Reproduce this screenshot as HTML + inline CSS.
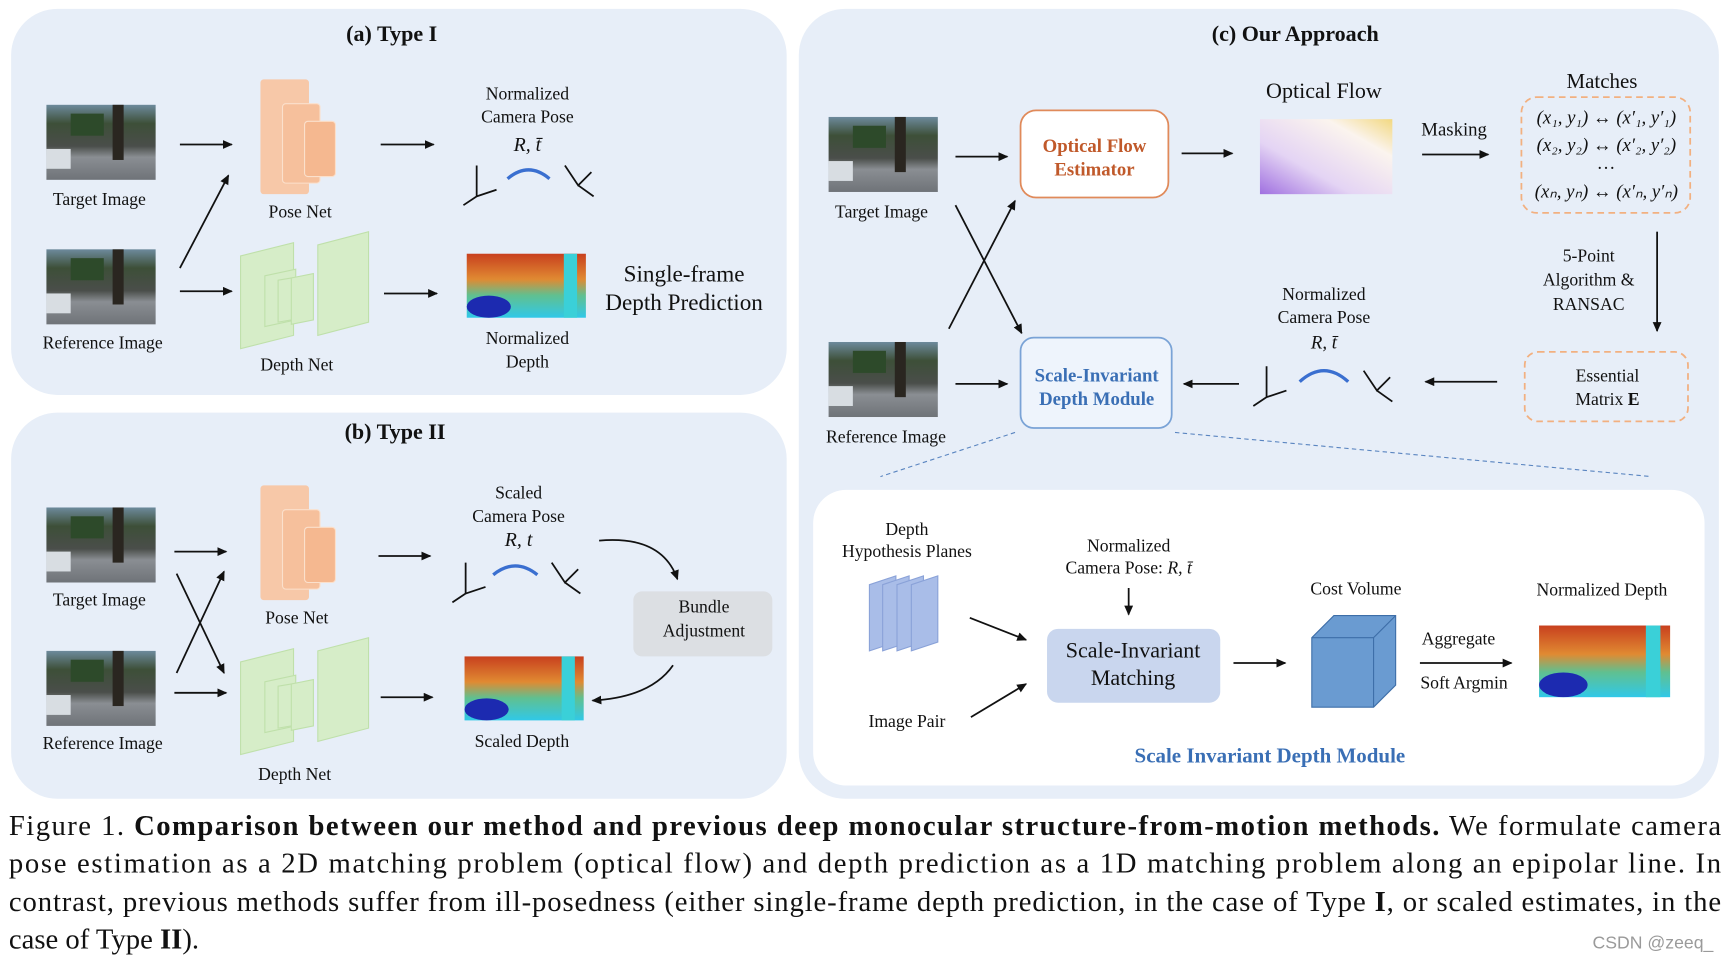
<!DOCTYPE html>
<html><head><meta charset="utf-8"><style>
html,body{margin:0;padding:0;background:#fff;width:1730px;height:962px;overflow:hidden}
svg{display:block}
text{font-family:"Liberation Serif",serif;fill:#111}
.c{text-anchor:middle}
.s16{font-size:16px}
</style></head><body>
<svg width="1730" height="962" viewBox="0 0 1568 872" xmlns="http://www.w3.org/2000/svg">
<defs>
<marker id="ar" markerWidth="10" markerHeight="10" refX="8" refY="4" orient="auto" markerUnits="userSpaceOnUse"><path d="M0,0 L9,4 L0,8 z" fill="#111"/></marker>
<linearGradient id="ph" x1="0" y1="0" x2="0" y2="1"><stop offset="0" stop-color="#6d8a9c"/><stop offset="0.25" stop-color="#3d4f38"/><stop offset="0.55" stop-color="#4a4e4a"/><stop offset="0.7" stop-color="#8a8e93"/><stop offset="1" stop-color="#6f7378"/></linearGradient>
<linearGradient id="dp" x1="0" y1="0" x2="0" y2="1"><stop offset="0" stop-color="#c8401e"/><stop offset="0.4" stop-color="#e08a32"/><stop offset="0.65" stop-color="#60c090"/><stop offset="1" stop-color="#30c8e8"/></linearGradient>
<linearGradient id="of" x1="0" y1="1" x2="1" y2="0"><stop offset="0" stop-color="#a070e0"/><stop offset="0.35" stop-color="#e4d4f4"/><stop offset="0.75" stop-color="#fbf4ee"/><stop offset="1" stop-color="#f2d880"/></linearGradient>
<g id="photo"><rect width="99" height="68" fill="url(#ph)"/><rect x="60" y="0" width="10" height="50" fill="#2a2620"/><rect x="0" y="40" width="22" height="18" fill="#d8dde2"/><rect x="22" y="8" width="30" height="20" fill="#2d4a2a"/></g>
<g id="depth"><rect width="108" height="58" fill="url(#dp)"/><ellipse cx="20" cy="48" rx="20" ry="10" fill="#1c2ab0"/><rect x="88" y="0" width="12" height="58" fill="#3ad0d8"/></g>
<g id="pose"><rect x="0" y="0" width="44" height="104" rx="3" fill="#f7c8a8"/><rect x="20" y="22" width="34" height="72" rx="3" fill="#f6c09c" stroke="#fbe0cc"/><rect x="40" y="38" width="28" height="50" rx="3" fill="#f5b890" stroke="#fbe0cc"/></g>
<g id="dnet" fill="#d6edc8" stroke="#bfe0aa"><path d="M0,22 L48,10 L48,94 L0,106z"/><path d="M22,40 L50,34 L50,80 L22,86z"/><path d="M34,44 L58,40 L58,78 L34,82z"/><path d="M46,42 L66,38 L66,80 L46,84z"/><path d="M70,12 L116,0 L116,82 L70,94z"/></g>
<g id="ax" stroke="#111" stroke-width="1.6" fill="none"><path d="M12,0 L12,28 L30,22 M12,28 L0,36"/></g>
<g id="ax2" stroke="#111" stroke-width="1.6" fill="none"><path d="M0,0 L12,18 L24,6 M12,18 L26,28"/></g>
</defs>
<!-- panels -->
<rect x="10" y="8" width="703" height="350" rx="42" fill="#e7eef8"/>
<rect x="10" y="374" width="703" height="350" rx="42" fill="#e7eef8"/>
<rect x="724" y="8" width="834" height="716" rx="42" fill="#e7eef8"/>
<rect x="737" y="444" width="808" height="268" rx="30" fill="#fff"/>

<!-- (a) -->
<text x="355" y="37" class="c" font-size="20" font-weight="bold">(a) Type I</text>
<use href="#photo" x="42" y="95"/><text x="90" y="186" class="c s16">Target Image</text>
<use href="#photo" x="42" y="226"/><text x="93" y="316" class="c s16">Reference Image</text>
<g stroke="#111" stroke-width="1.6" marker-end="url(#ar)"><line x1="163" y1="131" x2="210" y2="131"/><line x1="163" y1="243" x2="207" y2="159"/><line x1="163" y1="264" x2="210" y2="264"/><line x1="345" y1="131" x2="393" y2="131"/><line x1="348" y1="266" x2="396" y2="266"/></g>
<use href="#pose" x="236" y="72"/><text x="272" y="197" class="c s16">Pose Net</text>
<use href="#dnet" x="218" y="210"/><text x="269" y="336" class="c s16">Depth Net</text>
<text x="478" y="90" class="c s16">Normalized</text><text x="478" y="111" class="c s16">Camera Pose</text><text x="478" y="137" class="c" font-size="18" font-style="italic">R, t̄</text>
<use href="#ax" x="420" y="150"/><use href="#ax2" x="512" y="150"/><path d="M460,162 Q479,146 498,162" stroke="#3a6fd0" stroke-width="3" fill="none"/>
<use href="#depth" x="423" y="230"/>
<text x="478" y="312" class="c s16">Normalized</text><text x="478" y="333" class="c s16">Depth</text>
<text x="620" y="255" class="c" font-size="21">Single-frame</text><text x="620" y="281" class="c" font-size="21">Depth Prediction</text>

<!-- (b) -->
<text x="358" y="398" class="c" font-size="20" font-weight="bold">(b) Type II</text>
<use href="#photo" x="42" y="460"/><text x="90" y="549" class="c s16">Target Image</text>
<use href="#photo" x="42" y="590"/><text x="93" y="679" class="c s16">Reference Image</text>
<g stroke="#111" stroke-width="1.6" marker-end="url(#ar)"><line x1="158" y1="500" x2="205" y2="500"/><line x1="158" y1="628" x2="205" y2="628"/><line x1="160" y1="610" x2="203" y2="518"/><line x1="160" y1="520" x2="203" y2="610"/><line x1="343" y1="504" x2="390" y2="504"/><line x1="345" y1="632" x2="392" y2="632"/>
<path d="M543,490 Q600,485 614,525" fill="none"/><path d="M610,603 Q590,632 537,635" fill="none"/></g>
<use href="#pose" x="236" y="440"/><text x="269" y="565" class="c s16">Pose Net</text>
<use href="#dnet" x="218" y="578"/><text x="267" y="707" class="c s16">Depth Net</text>
<text x="470" y="452" class="c s16">Scaled</text><text x="470" y="473" class="c s16">Camera Pose</text><text x="470" y="495" class="c" font-size="18" font-style="italic">R, t</text>
<use href="#ax" x="410" y="510"/><use href="#ax2" x="500" y="510"/><path d="M447,521 Q467,505 487,521" stroke="#3a6fd0" stroke-width="3" fill="none"/>
<use href="#depth" x="421" y="595"/><text x="473" y="677" class="c s16">Scaled Depth</text>
<rect x="574" y="536" width="126" height="59" rx="8" fill="#dcdfe3"/>
<text x="638" y="555" class="c s16">Bundle</text><text x="638" y="577" class="c s16">Adjustment</text>

<!-- (c) -->
<text x="1174" y="37" class="c" font-size="20" font-weight="bold">(c) Our Approach</text>
<use href="#photo" x="751" y="106"/><text x="799" y="197" class="c s16">Target Image</text>
<use href="#photo" x="751" y="310"/><text x="803" y="401" class="c s16">Reference Image</text>
<g stroke="#111" stroke-width="1.6" marker-end="url(#ar)"><line x1="866" y1="142" x2="913" y2="142"/><line x1="866" y1="348" x2="913" y2="348"/><line x1="866" y1="186" x2="926" y2="302"/><line x1="860" y1="298" x2="920" y2="182"/><line x1="1071" y1="139" x2="1117" y2="139"/><line x1="1289" y1="140" x2="1349" y2="140"/><line x1="1502" y1="210" x2="1502" y2="300"/><line x1="1357" y1="346" x2="1292" y2="346"/><line x1="1123" y1="348" x2="1073" y2="348"/><line x1="879" y1="560" x2="930" y2="580"/><line x1="880" y1="650" x2="930" y2="620"/><line x1="1023" y1="533" x2="1023" y2="557"/><line x1="1118" y1="601" x2="1165" y2="601"/><line x1="1287" y1="601" x2="1370" y2="601"/></g>
<rect x="925" y="100" width="134" height="79" rx="14" fill="#fff" stroke="#e08a5a" stroke-width="1.6"/>
<text x="992" y="138" class="c" font-size="17" font-weight="bold" style="fill:#c0592a">Optical Flow</text><text x="992" y="159" class="c" font-size="17" font-weight="bold" style="fill:#c0592a">Estimator</text>
<text x="1200" y="89" class="c" font-size="20">Optical Flow</text>
<rect x="1142" y="108" width="120" height="68" fill="url(#of)"/>
<text x="1318" y="123" class="c" font-size="17">Masking</text>
<text x="1452" y="80" class="c" font-size="19">Matches</text>
<rect x="1379" y="88" width="153" height="105" rx="14" fill="none" stroke="#f2b080" stroke-width="1.6" stroke-dasharray="6,4"/>
<g font-size="17" font-style="italic"><text x="1456" y="112" class="c">(x₁, y₁) ↔ (x′₁, y′₁)</text><text x="1456" y="137" class="c">(x₂, y₂) ↔ (x′₂, y′₂)</text><text x="1456" y="153" class="c">…</text><text x="1456" y="179" class="c">(xₙ, yₙ) ↔ (x′ₙ, y′ₙ)</text></g>
<text x="1440" y="237" class="c s16">5-Point</text><text x="1440" y="259" class="c s16">Algorithm &amp;</text><text x="1440" y="281" class="c s16">RANSAC</text>
<rect x="1382" y="319" width="148" height="63" rx="12" fill="none" stroke="#f2b080" stroke-width="1.6" stroke-dasharray="6,4"/>
<text x="1457" y="346" class="c s16">Essential</text><text x="1457" y="367" class="c s16">Matrix <tspan font-weight="bold">E</tspan></text>
<use href="#ax" x="1136" y="332"/><use href="#ax2" x="1236" y="336"/><path d="M1178,346 Q1200,326 1222,346" stroke="#3a6fd0" stroke-width="3" fill="none"/>
<text x="1200" y="272" class="c s16">Normalized</text><text x="1200" y="293" class="c s16">Camera Pose</text><text x="1200" y="316" class="c" font-size="17" font-style="italic">R, t̄</text>
<rect x="925" y="306" width="137" height="82" rx="12" fill="#eef4fc" stroke="#7aa3d6" stroke-width="1.6"/>
<text x="994" y="346" class="c" font-size="17" font-weight="bold" style="fill:#3a6fb5">Scale-Invariant</text><text x="994" y="367" class="c" font-size="17" font-weight="bold" style="fill:#3a6fb5">Depth Module</text>
<g stroke="#5a85c0" stroke-width="1" stroke-dasharray="4,3"><line x1="920" y1="392" x2="798" y2="432"/><line x1="1065" y1="392" x2="1497" y2="432"/></g>
<text x="822" y="485" class="c s16">Depth</text><text x="822" y="505" class="c s16">Hypothesis Planes</text>
<g fill="#a9bde8" stroke="#8aa2d8"><path d="M788,530 L812,522 L812,582 L788,590z"/><path d="M800,530 L824,522 L824,582 L800,590z"/><path d="M813,530 L837,522 L837,582 L813,590z"/><path d="M826,530 L850,522 L850,582 L826,590z"/></g>
<text x="822" y="659" class="c s16">Image Pair</text>
<text x="1023" y="500" class="c s16">Normalized</text><text x="1023" y="520" class="c s16">Camera Pose:  <tspan font-style="italic">R, t̄</tspan></text>
<rect x="949" y="570" width="157" height="67" rx="10" fill="#c9d6ee"/>
<text x="1027" y="596" class="c" font-size="20">Scale-Invariant</text><text x="1027" y="621" class="c" font-size="20">Matching</text>
<text x="1229" y="539" class="c s16">Cost Volume</text>
<path d="M1189,578 L1209,558 L1265,558 L1265,621 L1245,641 L1189,641z" fill="#6a9bd1" stroke="#3d6ea8"/>
<path d="M1189,578 L1245,578 L1245,641 M1245,578 L1265,558" fill="none" stroke="#3d6ea8"/>
<text x="1322" y="584" class="c s16">Aggregate</text><text x="1327" y="624" class="c s16">Soft Argmin</text>
<text x="1452" y="540" class="c s16">Normalized Depth</text>
<g transform="translate(1395,567) scale(1.1,1.12)"><use href="#depth"/></g>
<text x="1151" y="691" class="c" font-size="19" font-weight="bold" style="fill:#3a6fb5">Scale Invariant Depth Module</text>

<!-- caption -->
<g font-size="26">
<text x="8" y="757" textLength="1552" lengthAdjust="spacing">Figure 1. <tspan font-weight="bold">Comparison between our method and previous deep monocular structure-from-motion methods.</tspan>  We formulate camera</text>
<text x="8" y="791" textLength="1552" lengthAdjust="spacing">pose estimation as a 2D matching problem (optical flow) and depth prediction as a 1D matching problem along an epipolar line.  In</text>
<text x="8" y="826" textLength="1552" lengthAdjust="spacing">contrast, previous methods suffer from ill-posedness (either single-frame depth prediction, in the case of Type <tspan font-weight="bold">I</tspan>, or scaled estimates, in the</text>
<text x="8" y="860">case of Type <tspan font-weight="bold">II</tspan>).</text>
</g>
<text x="1553" y="860" text-anchor="end" font-size="16" style="font-family:'Liberation Sans',sans-serif;fill:#9a9a9a">CSDN @zeeq_</text>
</svg>
</body></html>
